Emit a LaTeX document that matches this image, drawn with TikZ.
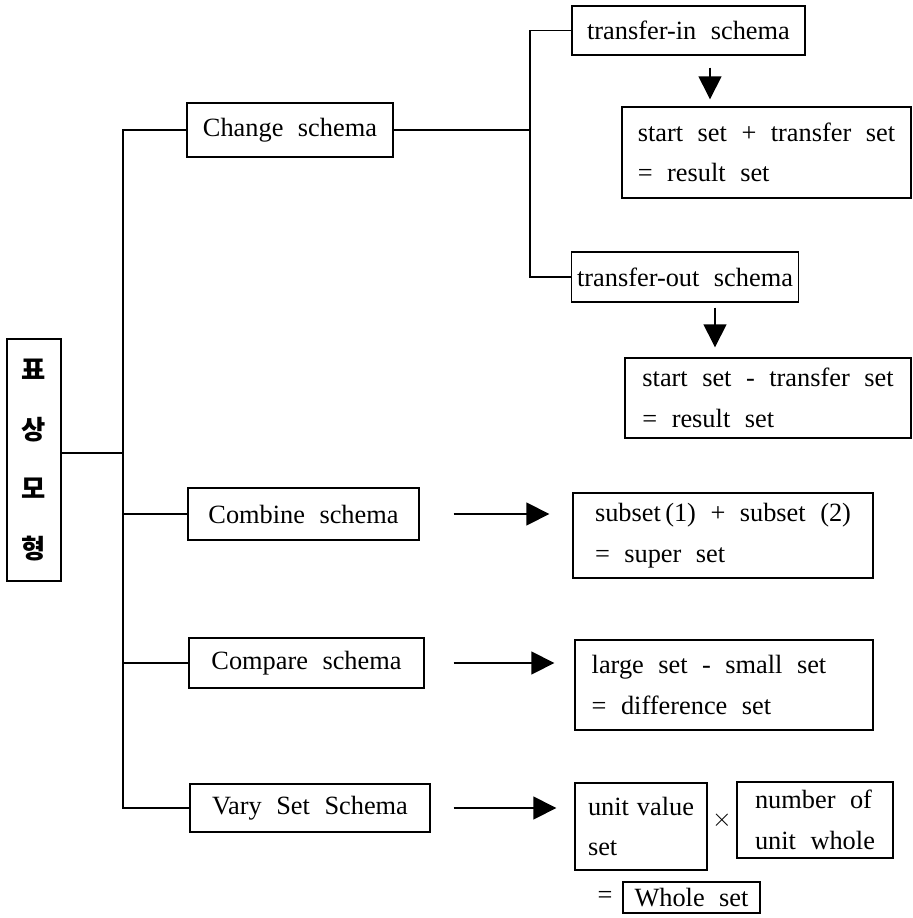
\documentclass[tikz,border=0pt]{standalone}
\usepackage{fontspec}
\setmainfont{Liberation Serif}[WordSpace=2.2]
\newfontfamily\krfont{Noto Sans CJK KR}
\usepackage{tikz}
\usetikzlibrary{positioning, arrows.meta, calc}
\tikzset{
  schemabox/.style={
    rectangle,
    draw,
    line width=0.8pt,
    inner sep=3pt,
    font=\fontsize{15}{18}\selectfont
  },
  setbox/.style={
    rectangle,
    draw,
    line width=0.8pt,
    align=left,
    inner sep=3pt,
    font=\fontsize{15}{23}\selectfont
  },
  korbox/.style={
    rectangle,
    draw,
    line width=0.8pt,
    minimum width=1.08cm,
    minimum height=4.84cm,
    align=center,
    font=\krfont\bfseries\fontsize{15}{34}\selectfont
  },
  branchline/.style={
    line width=0.8pt
  },
  bigarrow/.style={
    line width=0.8pt,
    -{Triangle[length=0.46cm, width=0.46cm]}
  },
  opsign/.style={
    font=\fontsize{15}{18}\selectfont,
    inner sep=1pt
  }
}
\begin{document}
\begin{tikzpicture}[x=0.02cm, y=-0.02cm]
  \useasboundingbox (0,0) rectangle (912,918);
  \node[korbox] (kor) at (34,460) {표\\상\\모\\형};

  \node[schemabox, minimum width=4.12cm, minimum height=1.08cm] (chg) at (290,130) {Change schema};
  \node[schemabox, minimum width=4.66cm, minimum height=0.98cm] (tin) at (688.5,30.5) {transfer-in schema};
  \node[schemabox, minimum width=4.52cm, minimum height=1.0cm] (tout) at (685,277) {transfer-out schema};
  \node[schemabox, minimum width=4.62cm, minimum height=1.04cm] (comb) at (303.5,514) {Combine schema};
  \node[schemabox, minimum width=4.70cm, minimum height=1.0cm] (cmp) at (306.5,663) {Compare schema};
  \node[schemabox, minimum width=4.80cm, minimum height=0.96cm] (vary) at (310,808) {Vary Set Schema};

  \node[setbox, minimum width=5.78cm, minimum height=1.82cm] (inres) at (766.5,152.5)
    {start set + transfer set\\= result set};
  \node[setbox, minimum width=5.72cm, minimum height=1.60cm] (outres) at (768,398)
    {start set - transfer set\\= result set};
  \node[setbox, minimum width=6.0cm, minimum height=1.70cm] (combres) at (723,535.5)
    {subset\,(1) + subset (2)\\= super set};
  \node[setbox, minimum width=5.96cm, minimum height=1.80cm] (compres) at (724,685)
    {large set - small set\hspace*{0.6cm}\\= difference set};
  \node[setbox, minimum width=2.64cm, minimum height=1.74cm] (unitv) at (641,826.5)
    {unit\hspace{0.3em}value\\set};
  \node[setbox, minimum width=3.12cm, minimum height=1.52cm] (numof) at (815,820)
    {number of\\unit whole};
  \node[setbox, minimum width=2.74cm, minimum height=0.62cm, inner ysep=1pt] (whole) at (691.5,897.5)
    {Whole set};
  \node[opsign] (times) at (722,820) {$\times$};
  \node[opsign] (eq) at (605,897) {=};

  \coordinate (jt) at (123,453);
  \coordinate (jc) at (530,130);
  \draw[branchline] (chg.west) -| (jt) |- (vary.west);
  \draw[branchline] (kor.east |- jt) -- (jt);
  \draw[branchline] (comb.west) -- (comb.west -| jt);
  \draw[branchline] (cmp.west) -- (cmp.west -| jt);
  \draw[branchline] (chg.east) -- (jc);
  \draw[branchline] (tin.west) -| (jc) |- (tout.west);

  \draw[bigarrow, shorten <=0.24cm, shorten >=0.14cm] ([xshift=0.43cm]tin.south) -- ([xshift=0.43cm]tin.south |- inres.north);
  \draw[bigarrow, shorten <=0.1cm, shorten >=0.2cm] ([xshift=0.6cm]tout.south) -- ([xshift=0.6cm]tout.south |- outres.north);
  \draw[bigarrow, shorten <=0.68cm, shorten >=0.46cm] (comb.east) -- (comb.east -| combres.west);
  \draw[bigarrow, shorten <=0.58cm, shorten >=0.40cm] (cmp.east) -- (cmp.east -| compres.west);
  \draw[bigarrow, shorten <=0.46cm, shorten >=0.36cm] (vary.east) -- (vary.east -| unitv.west);
\end{tikzpicture}
\end{document}
